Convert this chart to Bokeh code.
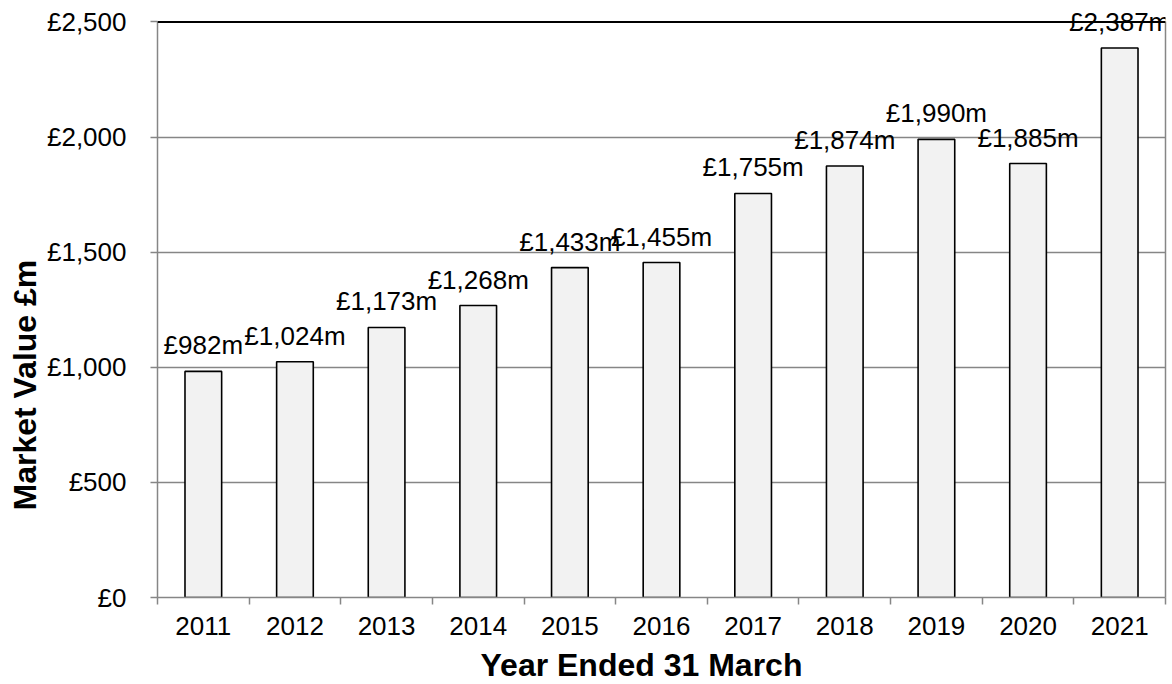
from bokeh.plotting import figure
from bokeh.models import (ColumnDataSource, FixedTicker, Range1d, Span, Title,
                          LabelSet, LinearAxis)
from bokeh.embed import file_html
from bokeh.resources import INLINE
from bokeh.core.properties import value

years = ["2011", "2012", "2013", "2014", "2015", "2016", "2017", "2018", "2019", "2020", "2021"]
values = [982, 1024, 1173, 1268, 1433, 1455, 1755, 1874, 1990, 1885, 2387]
bar_labels = ["£982m", "£1,024m", "£1,173m", "£1,268m", "£1,433m", "£1,455m",
              "£1,755m", "£1,874m", "£1,990m", "£1,885m", "£2,387m"]
y_ticks = [0, 500, 1000, 1500, 2000, 2500]
y_tick_labels = ["£0", "£500", "£1,000", "£1,500", "£2,000", "£2,500"]
y_max = 2500

xs = list(range(1, len(years) + 1))
src = ColumnDataSource(dict(x=xs, top=values, label=bar_labels))

FONT = "Liberation Sans"
GRID = "#868686"

p = figure(width=1172, height=692, output_backend="svg", toolbar_location=None,
           x_range=Range1d(0.5, len(years) + 0.5), y_range=Range1d(0, 2580),
           min_border_left=157, min_border_right=7, min_border_top=3, min_border_bottom=95)
p.background_fill_color = "white"
p.border_fill_color = "white"
p.outline_line_color = None

p.vbar(x="x", top="top", width=0.4, bottom=0, source=src,
       fill_color="#f2f2f2", line_color="black", line_width=1.6)

p.add_layout(Span(location=y_max, dimension="width", line_color="black", line_width=2))

labels = LabelSet(x="x", y="top", text="label", source=src, text_align="center",
                  text_baseline="alphabetic", y_offset=17, text_font=value(FONT),
                  text_font_size=value("26px"), text_color=value("black"))
p.add_layout(labels)

# grid
p.xgrid.visible = False
p.ygrid.ticker = FixedTicker(ticks=y_ticks[:-1])
p.ygrid.grid_line_color = GRID
p.ygrid.grid_line_width = 1.5

# y axis
p.yaxis.ticker = FixedTicker(ticks=y_ticks)
p.yaxis.bounds = (0, y_max)
p.yaxis.major_label_overrides = {t: l for t, l in zip(y_ticks, y_tick_labels)}
p.yaxis.axis_line_color = GRID
p.yaxis.axis_line_width = 1.5
p.yaxis.major_tick_line_color = GRID
p.yaxis.major_tick_line_width = 1.5
p.yaxis.major_tick_out = 7
p.yaxis.major_tick_in = 0
p.yaxis.minor_tick_line_color = None
p.yaxis.major_label_standoff = 24
p.yaxis.major_label_text_font = FONT
p.yaxis.major_label_text_font_size = "26px"
p.yaxis.major_label_text_color = "black"

# right border line
raxis = LinearAxis(ticker=FixedTicker(ticks=[]), bounds=(0, y_max),
                   axis_line_color=GRID, axis_line_width=1.5,
                   major_tick_line_color=None, minor_tick_line_color=None,
                   major_tick_out=0, major_label_standoff=0,
                   major_label_text_font_size="0px")
p.add_layout(raxis, "right")

# x axis
p.xaxis.ticker = FixedTicker(ticks=xs, minor_ticks=[i + 0.5 for i in range(0, len(years) + 1)])
p.xaxis.major_label_overrides = {x: y for x, y in zip(xs, years)}
p.xaxis.axis_line_color = GRID
p.xaxis.axis_line_width = 1.5
p.xaxis.major_tick_line_color = None
p.xaxis.major_tick_out = 0
p.xaxis.major_tick_in = 0
p.xaxis.minor_tick_line_color = GRID
p.xaxis.minor_tick_line_width = 1.5
p.xaxis.minor_tick_out = 7
p.xaxis.minor_tick_in = 0
p.xaxis.major_label_standoff = 12
p.xaxis.major_label_text_font = FONT
p.xaxis.major_label_text_font_size = "26px"
p.xaxis.major_label_text_color = "black"

# axis titles
ytitle = Title(text="Market Value £m", align="left", offset=87, standoff=2,
               text_font=FONT, text_font_style="bold", text_font_size="32px",
               text_color="black")
p.add_layout(ytitle, "left")
xtitle = Title(text="Year Ended 31 March", align="left", offset=323, standoff=15,
               text_font=FONT, text_font_style="bold", text_font_size="32px",
               text_color="black")
p.add_layout(xtitle, "below")

open("out.html", "w").write(file_html(p, INLINE))
